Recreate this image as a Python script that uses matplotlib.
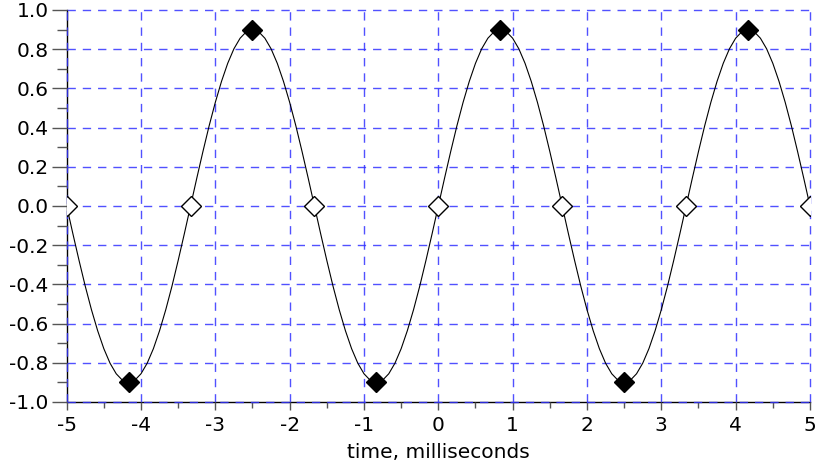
import numpy as np
import matplotlib
matplotlib.use("Agg")
import matplotlib.pyplot as plt

# signal samples, every 1/12 ms from -5 to 5 ms
t_start, t_end = -5.0, 5.0
signal = [
    0.000, -0.141, -0.278, -0.409, -0.529, -0.636, -0.728, -0.802, -0.856, -0.889,
    -0.900, -0.889, -0.856, -0.802, -0.728, -0.636, -0.529, -0.409, -0.278, -0.141,
    0.000, 0.141, 0.278, 0.409, 0.529, 0.636, 0.728, 0.802, 0.856, 0.889,
    0.900, 0.889, 0.856, 0.802, 0.728, 0.636, 0.529, 0.409, 0.278, 0.141,
    0.000, -0.141, -0.278, -0.409, -0.529, -0.636, -0.728, -0.802, -0.856, -0.889,
    -0.900, -0.889, -0.856, -0.802, -0.728, -0.636, -0.529, -0.409, -0.278, -0.141,
    0.000, 0.141, 0.278, 0.409, 0.529, 0.636, 0.728, 0.802, 0.856, 0.889,
    0.900, 0.889, 0.856, 0.802, 0.728, 0.636, 0.529, 0.409, 0.278, 0.141,
    0.000, -0.141, -0.278, -0.409, -0.529, -0.636, -0.728, -0.802, -0.856, -0.889,
    -0.900, -0.889, -0.856, -0.802, -0.728, -0.636, -0.529, -0.409, -0.278, -0.141,
    0.000, 0.141, 0.278, 0.409, 0.529, 0.636, 0.728, 0.802, 0.856, 0.889,
    0.900, 0.889, 0.856, 0.802, 0.728, 0.636, 0.529, 0.409, 0.278, 0.141,
    0.000,
]
time = np.linspace(t_start, t_end, len(signal))

# marked samples
marker_t = [-5.0, -4.167, -3.333, -2.5, -1.667, -0.833, 0.0, 0.833, 1.667, 2.5, 3.333, 4.167, 5.0]
marker_v = [0.0, -0.9, 0.0, 0.9, 0.0, -0.9, 0.0, 0.9, 0.0, -0.9, 0.0, 0.9, 0.0]

x_ticks = [-5, -4, -3, -2, -1, 0, 1, 2, 3, 4, 5]
y_ticks = [-1.0, -0.8, -0.6, -0.4, -0.2, 0.0, 0.2, 0.4, 0.6, 0.8, 1.0]
x_label = "time, milliseconds"

fig = plt.figure(figsize=(8.17, 4.65), dpi=100)
ax = fig.add_axes([0.0816, 0.1355, 0.9098, 0.843])

ax.plot(time, signal, color="black", lw=0.8, zorder=3)

mt = np.array(marker_t)
mv = np.array(marker_v)
peak = np.abs(mv) > 0.01
ax.plot(mt[peak], mv[peak], ls="none", marker="D", ms=10, mfc="black",
        mec="black", mew=1, zorder=4)
ax.plot(mt[~peak], mv[~peak], ls="none", marker="D", ms=10, mfc="white",
        mec="black", mew=1, zorder=4)

ax.set_xlim(-5, 5)
ax.set_ylim(-1, 1)
ax.set_xticks(x_ticks)
ax.set_xticklabels([f"{v:g}" for v in x_ticks])
ax.set_yticks(y_ticks)
ax.set_yticklabels([f"{v:.1f}" for v in y_ticks])
ax.set_xticks(np.arange(-4.5, 5, 1.0), minor=True)
ax.set_yticks(np.arange(-0.9, 1.0, 0.2), minor=True)

ax.tick_params(axis="x", which="major", direction="out", length=6, width=1,
               colors="#555555", labelcolor="black", labelsize=14.5, pad=4)
ax.tick_params(axis="x", which="minor", direction="out", length=4, width=1, colors="#555555")
ax.tick_params(axis="y", which="major", direction="out", length=11, width=1,
               colors="#555555", labelcolor="black", labelsize=14.5, pad=2)
ax.tick_params(axis="y", which="minor", direction="out", length=7, width=1, colors="#555555")

for s in ["top", "right"]:
    ax.spines[s].set_visible(False)
for s in ["left", "bottom"]:
    ax.spines[s].set_color("black")
    ax.spines[s].set_linewidth(1)

ax.grid(True, which="major", color="#3333ff", alpha=0.85, ls=(0, (6, 5)), lw=1)
ax.set_axisbelow(False)
for gl in ax.get_xgridlines() + ax.get_ygridlines():
    gl.set_zorder(2)
    gl.set_clip_on(False)

ax.set_xlabel(x_label, fontsize=14.5, labelpad=6)

fig.savefig("out.png", dpi=100)
